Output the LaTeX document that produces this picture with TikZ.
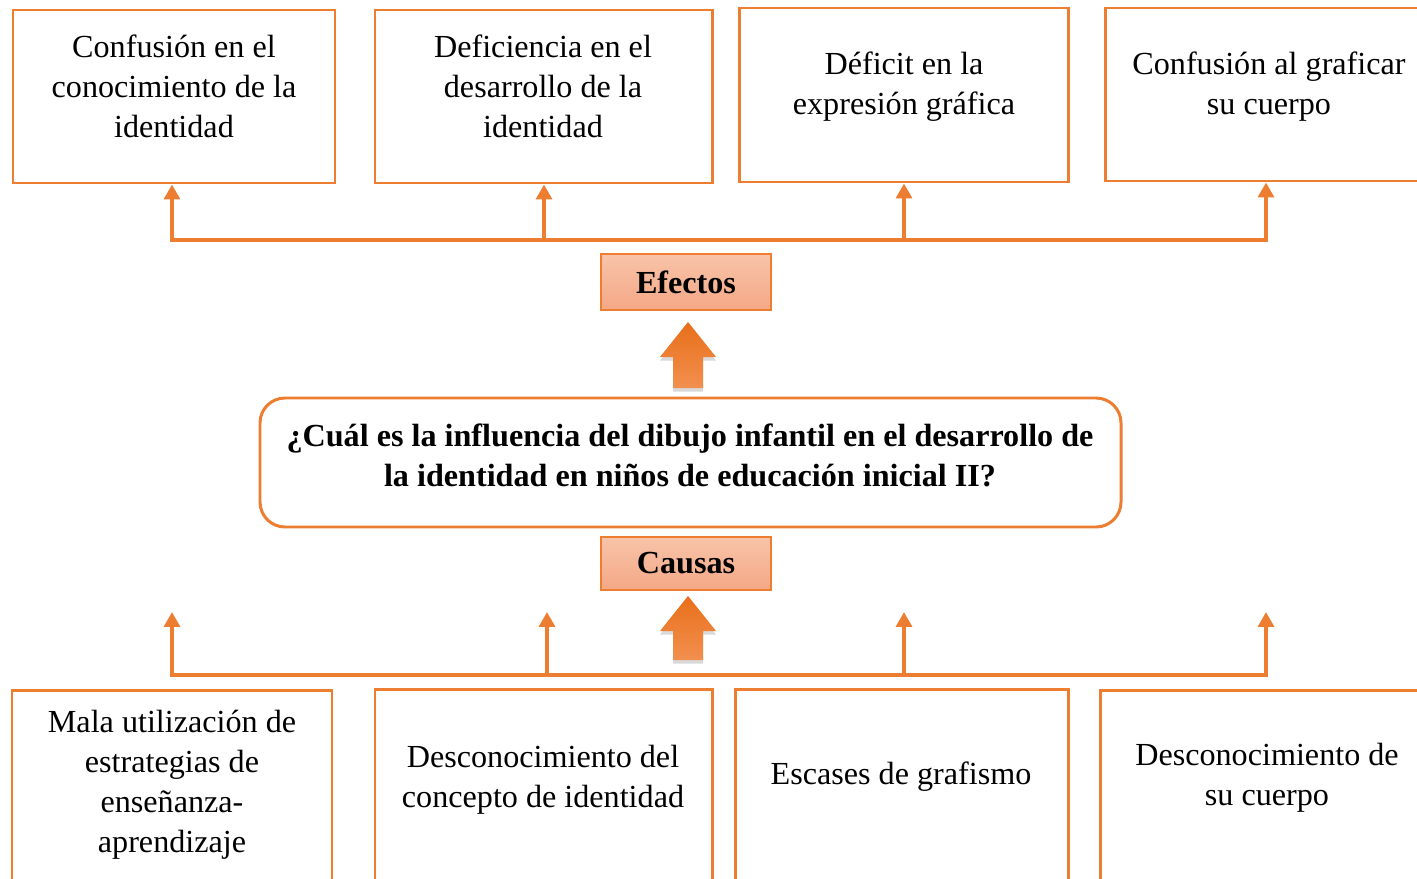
\documentclass[tikz,border=0pt]{standalone}
\usepackage{fontspec}
\setmainfont{Liberation Serif}
\usetikzlibrary{arrows.meta,positioning,fit,shadows}
\definecolor{naranja}{HTML}{ED7D31}
\definecolor{salmonA}{HTML}{F8C4A9}
\definecolor{salmonB}{HTML}{F4A886}
\definecolor{bloqueA}{HTML}{E86F1A}
\definecolor{bloqueB}{HTML}{F2904F}
\begin{document}
\begin{tikzpicture}[x=0.02cm,y=-0.02cm,
	caja/.style={draw=naranja,line width=1.7pt,inner sep=0pt},
	texto/.style={align=center,inner sep=0pt,font=\fontsize{18.3}{22.8}\selectfont},
	titulo/.style={draw=naranja,line width=0.9pt,top color=salmonA,bottom color=salmonB,inner sep=0pt,minimum width=3.4cm,font=\fontsize{18.3}{22}\selectfont\bfseries},
	pregunta/.style={caja,rounded corners=0.5cm},
	linea/.style={naranja,line width=2.2pt},
	punta/.style={linea,-{Triangle[length=8.5pt,width=9pt]}},
	bloque/.style={top color=bloqueA,bottom color=bloqueB,drop shadow={shadow xshift=0pt,shadow yshift=-2pt,opacity=.3}}]
\useasboundingbox (0,0) rectangle (1417,879);
\clip (0,0) rectangle (1417,879);
% efectos
\node[caja,fit={(13,10) (335,183)}] (e1) {};
\node[caja,fit={(375,10) (712,183)}] (e2) {};
\node[caja,fit={(739,8) (1068,182)}] (e3) {};
\node[caja,fit={(1105,8) (1435,181)}] (e4) {};
\node[texto] (e1t) at (174,86) {Confusión en el\\conocimiento de la\\identidad};
\node[texto] (e2t) at (543,86) {Deficiencia en el\\desarrollo de la\\identidad};
\node[texto] (e3t) at (904,87) {Déficit en la\\expresión gráfica};
\node[texto] (e4t) at (1269,87) {Confusión al graficar\\su cuerpo};
	\path (172,240) coordinate(s1)
        (544,240) coordinate(s2)
        (904,240) coordinate(s3)
        (1266,240) coordinate(s4);
\draw[linea,line cap=rect] (s1) -- (s4);
\draw[punta] (s1) -- (s1 |- e1.south);
\draw[punta] (s2) -- (s2 |- e2.south);
\draw[punta] (s3) -- (s3 |- e3.south);
\draw[punta] (s4) -- (s4 |- e4.south);
\node[titulo,minimum height=1.12cm] (efectos) at (686,282) {Efectos};
\path[bloque] (673,388) -- (673,357) -- (660,357) -- (688,322) -- (716,357) -- (703,357) -- (703,388) -- cycle;
% pregunta
\node[pregunta,fit={(260,398) (1121,527)}] (preg) {};
\node[texto,font=\fontsize{18.3}{22.8}\selectfont\bfseries] (pregt) at (690,455) {¿Cuál es la influencia del dibujo infantil en el desarrollo de\\la identidad en niños de educación inicial II?};
% causas
\node[titulo,minimum height=1.06cm] (causas) at (686,563.5) {Causas};
\path[bloque] (673,660) -- (673,631) -- (660,631) -- (688,596) -- (716,631) -- (703,631) -- (703,660) -- cycle;
	\path (172,675) coordinate(b1)
        (547,675) coordinate(b2)
        (904,675) coordinate(b3)
        (1266,675) coordinate(b4);
	\path (172,612) coordinate(t1)
        (547,612) coordinate(t2)
        (904,612) coordinate(t3)
        (1266,612) coordinate(t4);
\draw[linea,line cap=rect] (b1) -- (b4);
\draw[punta] (b1) -- (t1);
\draw[punta] (b2) -- (t2);
\draw[punta] (b3) -- (t3);
\draw[punta] (b4) -- (t4);
\node[caja,fit={(12,690) (332,884)}] (c1) {};
\node[caja,fit={(375,689) (712,884)}] (c2) {};
\node[caja,fit={(735,689) (1068,884)}] (c3) {};
\node[caja,fit={(1100,690) (1435,884)}] (c4) {};
\node[texto] (c1t) at (172,785) {Mala utilización de\\estrategias de\\enseñanza-\\aprendizaje};
\node[texto] (c2t) at (543,780) {Desconocimiento del\\concepto de identidad};
\node[texto] (c3t) at (901,777) {Escases de grafismo};
\node[texto] (c4t) at (1267,778) {Desconocimiento de\\su cuerpo};
\end{tikzpicture}
\end{document}
